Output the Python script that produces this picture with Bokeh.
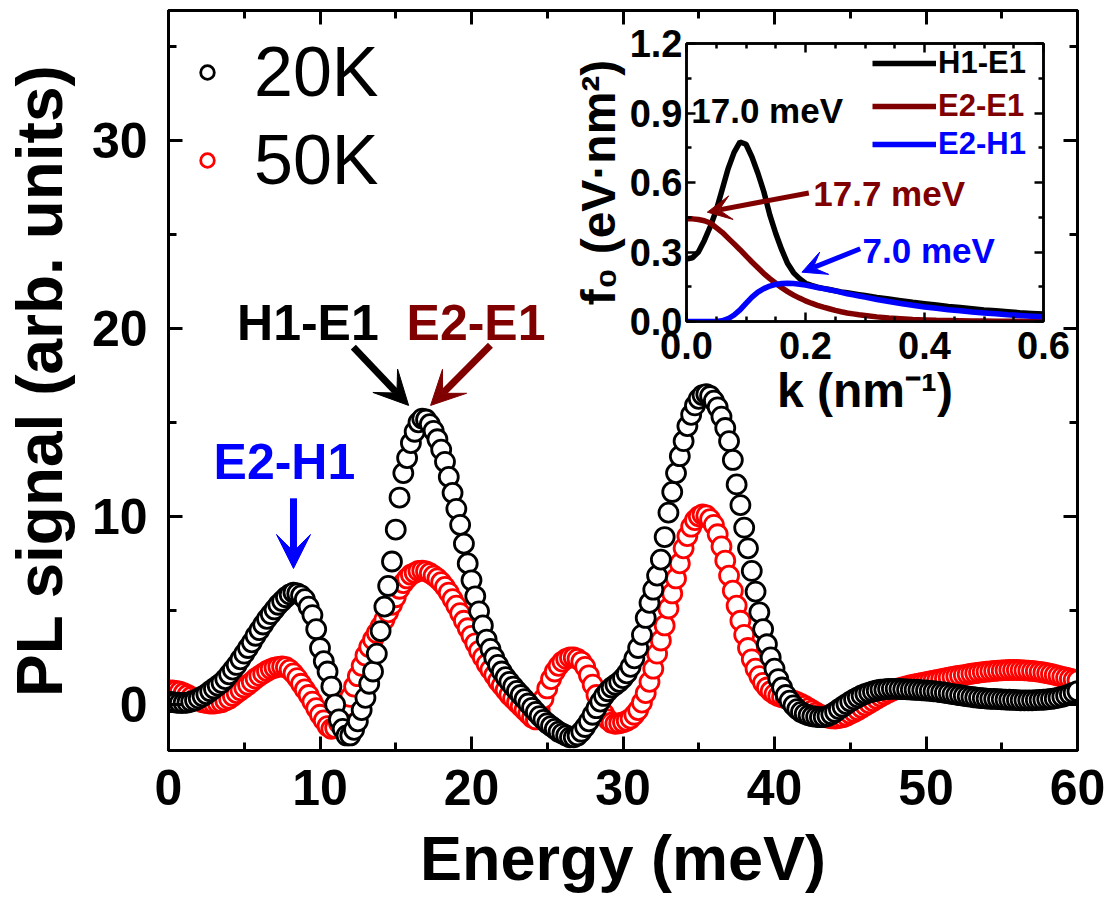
import numpy as np
from bokeh.plotting import figure
from bokeh.models import (Range1d, LinearAxis, Label, Arrow, VeeHead, Legend, LegendItem,
                          SingleIntervalTicker, FixedTicker, NumeralTickFormatter)
from bokeh.layouts import column
from bokeh.embed import file_html
from bokeh.resources import INLINE

FONT = "Liberation Sans"

# ---------------- main data (PL spectra) ----------------
energy = [round(0.25 * i, 2) for i in range(241)]

pl_20k = [
    0.15, 0.12, 0.10, 0.08, 0.08, 0.10, 0.15, 0.22,
    0.32, 0.43, 0.55, 0.70, 0.85, 1.00, 1.15, 1.35,
    1.60, 1.85, 2.10, 2.40, 2.70, 3.00, 3.30, 3.65,
    3.95, 4.25, 4.55, 4.80, 5.05, 5.30, 5.50, 5.70,
    5.85, 5.95, 5.90, 5.80, 5.60, 5.20, 4.75, 4.00,
    3.00, 2.30, 1.75, 0.95, 0.00, -0.80, -1.30, -1.65,
    -1.65, -1.35, -0.90, -0.30, 0.35, 1.10, 1.75, 2.70,
    3.90, 5.20, 6.30, 7.60, 9.30, 11.00, 12.30, 13.10,
    13.90, 14.50, 15.00, 15.20, 15.15, 14.90, 14.55, 14.10,
    13.55, 12.90, 12.10, 11.25, 10.40, 9.55, 8.55, 7.50,
    6.60, 5.75, 4.95, 4.20, 3.45, 2.95, 2.50, 2.10,
    1.75, 1.45, 1.20, 0.95, 0.72, 0.50, 0.28, 0.05,
    -0.18, -0.40, -0.62, -0.82, -1.00, -1.15, -1.30, -1.45,
    -1.55, -1.65, -1.75, -1.75, -1.65, -1.45, -1.20, -0.90,
    -0.55, -0.20, 0.15, 0.45, 0.70, 0.90, 1.05, 1.20,
    1.40, 1.65, 2.00, 2.45, 3.00, 3.70, 4.60, 5.40,
    6.10, 6.85, 7.70, 8.90, 10.20, 11.30, 12.30, 13.20,
    14.00, 14.80, 15.40, 15.90, 16.25, 16.45, 16.50, 16.40,
    16.15, 15.80, 15.30, 14.70, 14.00, 13.00, 11.70, 10.60,
    9.40, 8.30, 7.10, 6.00, 4.90, 4.00, 3.20, 2.50,
    1.90, 1.35, 0.90, 0.50, 0.20, -0.05, -0.25, -0.40,
    -0.50, -0.58, -0.63, -0.66, -0.68, -0.67, -0.62, -0.52,
    -0.40, -0.25, -0.12, 0.02, 0.15, 0.27, 0.38, 0.48,
    0.56, 0.63, 0.69, 0.74, 0.78, 0.80, 0.82, 0.83,
    0.83, 0.82, 0.81, 0.80, 0.79, 0.78, 0.77, 0.75,
    0.74, 0.72, 0.70, 0.68, 0.65, 0.62, 0.59, 0.55,
    0.52, 0.49, 0.46, 0.43, 0.40, 0.37, 0.35, 0.33,
    0.31, 0.30, 0.29, 0.28, 0.27, 0.26, 0.25, 0.24,
    0.23, 0.22, 0.22, 0.22, 0.22, 0.23, 0.24, 0.25,
    0.27, 0.29, 0.32, 0.36, 0.41, 0.47, 0.54, 0.62,
    0.70,
]

pl_50k = [
    0.75, 0.75, 0.72, 0.68, 0.60, 0.50, 0.40, 0.30,
    0.20, 0.12, 0.08, 0.05, 0.05, 0.08, 0.12, 0.20,
    0.30, 0.45, 0.60, 0.75, 0.90, 1.05, 1.20, 1.38,
    1.52, 1.65, 1.78, 1.88, 1.95, 2.00, 2.02, 1.98,
    1.85, 1.65, 1.40, 1.10, 0.80, 0.50, 0.15, -0.20,
    -0.55, -0.85, -1.15, -1.30, -1.25, -1.00, -0.60, -0.10,
    0.40, 0.95, 1.50, 2.05, 2.60, 3.05, 3.45, 3.80,
    4.15, 4.50, 4.90, 5.30, 5.70, 6.15, 6.45, 6.70,
    6.90, 7.00, 7.10, 7.12, 7.08, 6.98, 6.85, 6.70,
    6.50, 6.25, 5.95, 5.60, 5.25, 4.85, 4.45, 4.05,
    3.65, 3.25, 2.85, 2.50, 2.15, 1.85, 1.55, 1.25,
    1.00, 0.75, 0.50, 0.30, 0.10, -0.10, -0.30, -0.50,
    -0.70, -0.80, -0.30, 0.30, 0.85, 1.35, 1.75, 2.05,
    2.28, 2.42, 2.50, 2.50, 2.42, 2.28, 2.00, 1.55,
    1.05, 0.50, -0.05, -0.50, -0.80, -0.97, -1.03, -1.00,
    -0.95, -0.87, -0.75, -0.55, -0.30, 0.10, 0.60, 1.20,
    1.90, 2.70, 3.40, 4.20, 5.10, 5.90, 6.70, 7.50,
    8.30, 8.95, 9.45, 9.80, 10.00, 10.10, 10.05, 9.85,
    9.55, 9.05, 8.40, 7.65, 6.85, 6.05, 5.25, 4.45,
    3.70, 3.00, 2.40, 1.90, 1.50, 1.15, 0.90, 0.70,
    0.55, 0.45, 0.38, 0.32, 0.26, 0.20, 0.12, 0.03,
    -0.08, -0.20, -0.32, -0.44, -0.55, -0.64, -0.70, -0.74,
    -0.75, -0.73, -0.68, -0.60, -0.50, -0.40, -0.30, -0.18,
    -0.06, 0.06, 0.18, 0.30, 0.42, 0.53, 0.63, 0.72,
    0.80, 0.86, 0.92, 0.97, 1.02, 1.06, 1.10, 1.14,
    1.18, 1.22, 1.26, 1.30, 1.34, 1.38, 1.42, 1.46,
    1.50, 1.53, 1.56, 1.60, 1.63, 1.66, 1.69, 1.72,
    1.74, 1.76, 1.78, 1.80, 1.81, 1.82, 1.83, 1.83,
    1.83, 1.82, 1.81, 1.80, 1.78, 1.76, 1.73, 1.70,
    1.66, 1.62, 1.57, 1.52, 1.47, 1.42, 1.37, 1.32,
    1.28,
]

series_labels = ["20K", "50K"]

# ---------------- inset data (oscillator strength) ----------------
k_vals = [0.00, 0.01, 0.02, 0.03, 0.04, 0.05, 0.06, 0.07, 0.08, 0.09,
          0.10, 0.11, 0.12, 0.13, 0.14, 0.15, 0.16, 0.17, 0.18, 0.19,
          0.20, 0.21, 0.22, 0.23, 0.24, 0.25, 0.26, 0.27, 0.28, 0.29,
          0.30, 0.32, 0.34, 0.36, 0.38, 0.40, 0.42, 0.44, 0.46, 0.48,
          0.50, 0.52, 0.54, 0.56, 0.58, 0.60]

f_h1e1 = [0.270, 0.275, 0.300, 0.350, 0.410, 0.480, 0.570, 0.660, 0.730, 0.775,
          0.765, 0.710, 0.640, 0.560, 0.460, 0.380, 0.310, 0.250, 0.210, 0.185,
          0.165, 0.156, 0.148, 0.143, 0.138, 0.133, 0.128, 0.124, 0.120, 0.116,
          0.112, 0.104, 0.097, 0.090, 0.083, 0.077, 0.071, 0.065, 0.060, 0.055,
          0.050, 0.046, 0.042, 0.038, 0.035, 0.032]

f_e2e1 = [0.443, 0.443, 0.440, 0.435, 0.425, 0.405, 0.385, 0.360, 0.335, 0.310,
          0.283, 0.257, 0.232, 0.207, 0.185, 0.165, 0.146, 0.129, 0.114, 0.101,
          0.089, 0.079, 0.070, 0.062, 0.055, 0.048, 0.042, 0.037, 0.033, 0.029,
          0.026, 0.020, 0.015, 0.012, 0.009, 0.007, 0.005, 0.004, 0.003, 0.002,
          0.002, 0.001, 0.001, 0.001, 0.000, 0.000]

f_e2h1 = [0.000, 0.000, 0.000, 0.000, 0.000, 0.000, 0.003, 0.012, 0.028, 0.050,
          0.078, 0.105, 0.127, 0.142, 0.153, 0.160, 0.164, 0.165, 0.164, 0.161,
          0.157, 0.152, 0.147, 0.142, 0.137, 0.132, 0.126, 0.120, 0.115, 0.110,
          0.105, 0.095, 0.086, 0.078, 0.070, 0.063, 0.057, 0.051, 0.046, 0.041,
          0.037, 0.033, 0.029, 0.026, 0.023, 0.020]

inset_labels = ["H1-E1", "E2-E1", "E2-H1"]
inset_colors = ["#000000", "#800000", "#0000FF"]

# ---------------- helpers ----------------
def style_axis(ax, size, major_in, minor_in, lw):
    ax.axis_line_width = lw
    ax.axis_line_color = "black"
    ax.major_tick_in = major_in
    ax.major_tick_out = 0
    ax.minor_tick_in = minor_in
    ax.minor_tick_out = 0
    ax.major_tick_line_width = lw
    ax.minor_tick_line_width = lw
    ax.major_tick_line_color = "black"
    ax.minor_tick_line_color = "black"
    ax.major_label_text_font = FONT
    ax.major_label_text_font_style = "bold"
    ax.major_label_text_font_size = size
    ax.major_label_text_color = "black"
    ax.axis_label_text_font = FONT
    ax.axis_label_text_font_style = "bold"
    ax.axis_label_text_color = "black"


def tick_only_axis(ticker, major_in, minor_in, lw):
    ax = LinearAxis(ticker=ticker)
    style_axis(ax, "0px", major_in, minor_in, lw)
    ax.major_label_standoff = 0
    ax.major_label_text_color = None
    ax.major_label_text_alpha = 0
    return ax


# ---------------- main figure ----------------
main = figure(width=1107, height=902, x_range=Range1d(0, 60), y_range=Range1d(-2.45, 36.9),
              output_backend="svg", toolbar_location=None,
              min_border_left=168, min_border_right=30, min_border_top=10, min_border_bottom=152)
main.grid.visible = False
main.outline_line_color = "black"
main.outline_line_width = 3
main.background_fill_color = "white"
main.border_fill_color = "white"

main.xaxis.ticker = SingleIntervalTicker(interval=10, num_minor_ticks=2)
main.yaxis.ticker = SingleIntervalTicker(interval=10, num_minor_ticks=2)
style_axis(main.xaxis[0], "50px", 14, 8, 3)
style_axis(main.yaxis[0], "50px", 14, 8, 3)
main.xaxis.axis_label = "Energy (meV)"
main.yaxis.axis_label = "PL signal (arb. units)"
main.xaxis.axis_label_text_font_size = "63px"
main.yaxis.axis_label_text_font_size = "64px"
main.xaxis.major_label_standoff = 19
main.xaxis.axis_label_standoff = 15
main.yaxis.major_label_standoff = 21
main.yaxis.axis_label_standoff = 13

main.add_layout(tick_only_axis(SingleIntervalTicker(interval=10, num_minor_ticks=2), 14, 8, 3), "above")
main.add_layout(tick_only_axis(SingleIntervalTicker(interval=10, num_minor_ticks=2), 14, 8, 3), "right")

r50 = main.scatter(energy, pl_50k, marker="circle", size=19, line_color="#FF0000",
                   line_width=2.8, fill_color="white")
r20 = main.scatter(energy, pl_20k, marker="circle", size=19, line_color="black",
                   line_width=2.8, fill_color="white")

leg = Legend(items=[LegendItem(label=series_labels[0], renderers=[r20]),
                    LegendItem(label=series_labels[1], renderers=[r50])],
             location="top_left")
leg.background_fill_alpha = 0
leg.border_line_color = None
leg.label_text_font = FONT
leg.label_text_font_size = "70px"
leg.label_text_color = "black"
leg.glyph_width = 34
leg.glyph_height = 34
leg.label_standoff = 30
leg.margin = 22
leg.padding = 8
leg.spacing = 8
main.add_layout(leg)

# annotations in the main panel
main.add_layout(Label(x=9.2, y=20.3, text="H1-E1", text_font=FONT, text_font_style="bold",
                      text_font_size="50px", text_color="black", text_align="center",
                      text_baseline="middle"))
main.add_layout(Label(x=20.3, y=20.3, text="E2-E1", text_font=FONT, text_font_style="bold",
                      text_font_size="50px", text_color="#800000", text_align="center",
                      text_baseline="middle"))
main.add_layout(Label(x=7.65, y=12.9, text="E2-H1", text_font=FONT, text_font_style="bold",
                      text_font_size="50px", text_color="#0000FF", text_align="center",
                      text_baseline="middle"))
main.add_layout(Arrow(x_start=12.2, y_start=19.0, x_end=15.85, y_end=15.9,
                      line_width=7, line_color="black",
                      end=VeeHead(size=34, fill_color="black", line_color="black")))
main.add_layout(Arrow(x_start=21.25, y_start=19.1, x_end=17.3, y_end=15.9,
                      line_width=7, line_color="#800000",
                      end=VeeHead(size=34, fill_color="#800000", line_color="#800000")))
main.add_layout(Arrow(x_start=8.25, y_start=10.96, x_end=8.25, y_end=7.23,
                      line_width=7, line_color="#0000FF",
                      end=VeeHead(size=34, fill_color="#0000FF", line_color="#0000FF")))

# ---------------- inset figure (overlaid with a negative margin) ----------------
ins = figure(frame_width=357, frame_height=278, x_range=Range1d(0, 0.6), y_range=Range1d(0, 1.2),
             output_backend="svg", toolbar_location=None,
             min_border_left=168, min_border_right=30, min_border_top=20, min_border_bottom=101,
             margin=(23 - 902, 0, 0, 518))
ins.grid.visible = False
ins.outline_line_color = "black"
ins.outline_line_width = 2.5
ins.background_fill_color = "white"
ins.border_fill_color = None

kx_major = [0.0, 0.2, 0.4, 0.6]
kx_minor = [0.05, 0.1, 0.15, 0.25, 0.3, 0.35, 0.45, 0.5, 0.55]
fy_major = [0.0, 0.3, 0.6, 0.9, 1.2]
fy_minor = [0.15, 0.45, 0.75, 1.05]

ins.xaxis.ticker = FixedTicker(ticks=kx_major, minor_ticks=kx_minor)
ins.yaxis.ticker = FixedTicker(ticks=fy_major, minor_ticks=fy_minor)
ins.xaxis.formatter = NumeralTickFormatter(format="0.0")
ins.yaxis.formatter = NumeralTickFormatter(format="0.0")
style_axis(ins.xaxis[0], "38px", 9, 5, 2.5)
style_axis(ins.yaxis[0], "38px", 9, 5, 2.5)
ins.xaxis.axis_label = "k (nm\u207b\u00b9)"
ins.yaxis.axis_label = "f\u2080 (eV\u00b7nm\u00b2)"
ins.xaxis.axis_label_text_font_size = "48px"
ins.yaxis.axis_label_text_font_size = "48px"
ins.xaxis.major_label_standoff = 10
ins.xaxis.axis_label_standoff = 2
ins.yaxis.major_label_standoff = 4
ins.yaxis.axis_label_standoff = 2

ins.add_layout(tick_only_axis(FixedTicker(ticks=kx_major, minor_ticks=kx_minor), 9, 5, 2.5), "above")
ins.add_layout(tick_only_axis(FixedTicker(ticks=fy_major, minor_ticks=fy_minor), 9, 5, 2.5), "right")

ir = []
for ys, col in zip([f_h1e1, f_e2e1, f_e2h1], inset_colors):
    ir.append(ins.line(k_vals, ys, line_color=col, line_width=5.5))

legend_rows = [(186, 240), (186, 197), (186, 159)]
for (lx, ly), lab, col, rr in zip(legend_rows, inset_labels, inset_colors, ir):
    lg = Legend(items=[LegendItem(label=lab, renderers=[rr])], location=(lx, ly))
    lg.background_fill_alpha = 0
    lg.border_line_color = None
    lg.label_text_font = FONT
    lg.label_text_font_style = "bold"
    lg.label_text_font_size = "31px"
    lg.label_text_color = col
    lg.glyph_width = 64
    lg.glyph_height = 28
    lg.label_standoff = 2
    lg.padding = 0
    lg.margin = 0
    ins.add_layout(lg)

ins.add_layout(Label(x=0.008, y=0.91, text="17.0 meV", text_font=FONT, text_font_style="bold",
                     text_font_size="35px", text_color="black", text_align="left",
                     text_baseline="middle"))
ins.add_layout(Label(x=0.213, y=0.552, text="17.7 meV", text_font=FONT, text_font_style="bold",
                     text_font_size="35px", text_color="#800000", text_align="left",
                     text_baseline="middle"))
ins.add_layout(Label(x=0.296, y=0.306, text="7.0 meV", text_font=FONT, text_font_style="bold",
                     text_font_size="35px", text_color="#0000FF", text_align="left",
                     text_baseline="middle"))
ins.add_layout(Arrow(x_start=0.2056, y_start=0.555, x_end=0.035, y_end=0.472,
                     line_width=5, line_color="#800000",
                     end=VeeHead(size=24, fill_color="#800000", line_color="#800000")))
ins.add_layout(Arrow(x_start=0.292, y_start=0.314, x_end=0.194, y_end=0.213,
                     line_width=5, line_color="#0000FF",
                     end=VeeHead(size=24, fill_color="#0000FF", line_color="#0000FF")))

p = column(main, ins)
open("out.html", "w").write(file_html(p, INLINE))
